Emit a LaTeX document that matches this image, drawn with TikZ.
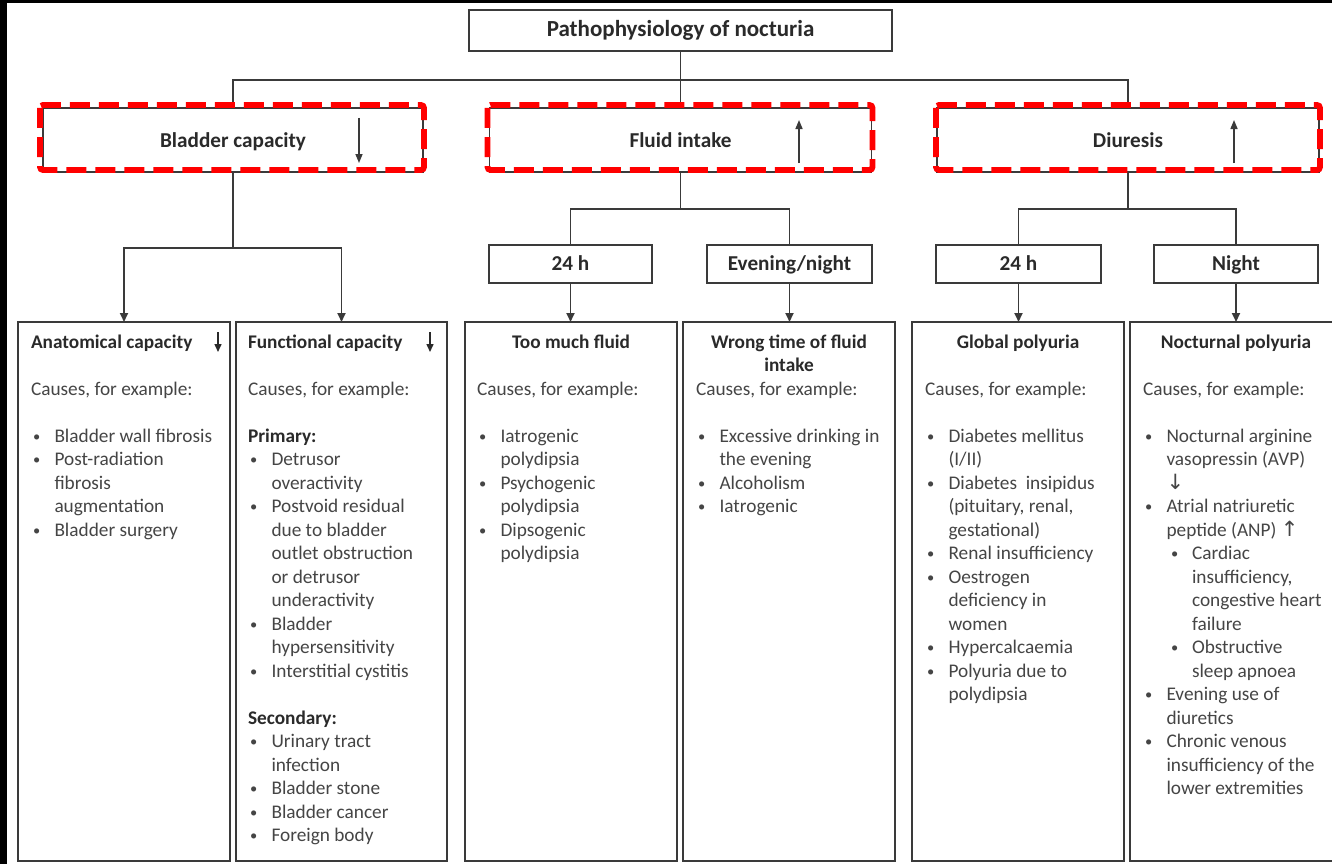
\documentclass[tikz,border=0pt]{standalone}
\usepackage{graphicx}
\usepackage{fontspec}
\setmainfont{Carlito}
\newfontfamily\arwfont{DejaVu Sans}
\usetikzlibrary{arrows.meta,calc}
\definecolor{linec}{HTML}{3A3A3A}
\definecolor{bodyc}{HTML}{454545}
\definecolor{headc}{HTML}{2A2A2A}
\definecolor{dashred}{HTML}{FF0000}
\newcommand\blankln{\par\mbox{}\par}
\newcommand\bul{\raisebox{1pt}{\scalebox{0.75}{\textbullet}}}
\newcommand\itm[1]{\par\hangindent=23.5pt\hangafter=1\makebox[23.5pt][l]{\hspace{2pt}\bul}#1\par}
\newcommand\subitm[1]{\par\hangindent=49pt\hangafter=1\makebox[49pt][l]{\hspace{28pt}\bul}#1\par}
\newcommand\hd[1]{{\color{headc}\bfseries #1}}
\newcommand\ctr[1]{\makebox[186pt][c]{\hd{#1}}\par}
\newcommand\dn{{\arwfont\fontsize{21}{23.5}\selectfont ↓}}
\newcommand\up{{\arwfont\fontsize{21}{23.5}\selectfont ↑}}
\begin{document}
\begin{tikzpicture}[x=1pt,y=-1pt,
  every node/.style={inner sep=0pt,outer sep=0pt},
  box/.style={draw=linec,line width=1.8pt,rectangle,text=headc,
    font=\fontsize{21.2}{25}\selectfont\bfseries,text height=16pt,text depth=4pt},
  txt/.style={anchor=base west,text=bodyc,font=\fontsize{19.3}{23.5}\selectfont},
  reddash/.style={draw=dashred,line width=5.8pt,dash pattern=on 20pt off 9pt,rounded corners=3pt},
  conn/.style={draw=linec,line width=1.8pt},
  arr/.style={conn,-{Triangle[length=9pt,width=8pt]}},
  thinarr/.style={draw=linec,line width=1.5pt,-{Triangle[length=9pt,width=7pt]}}
]
\useasboundingbox (0,0) rectangle (1332,864);
\fill[white] (0,0) rectangle (1332,864);
\fill[black] (0,0) rectangle (7,864);
\fill[black] (0,0) rectangle (1332,3);

% top level
\node[box,minimum width=423pt,minimum height=41pt,font=\fontsize{23}{27}\selectfont\bfseries,text height=17pt,text depth=5pt] (tt) at (680.5,30.5) {Pathophysiology of nocturia};

% red boxes
\node[box,minimum width=380pt,minimum height=64pt,text height=17pt,text depth=3pt] (bc) at (233,140) {Bladder capacity};
\node[box,minimum width=382pt,minimum height=64pt,text height=17pt,text depth=3pt] (fi) at (680.5,140) {Fluid intake};
\node[box,minimum width=382pt,minimum height=64pt,text height=17pt,text depth=3pt] (di) at (1128,140) {Diuresis};

% level 3
\node[box,minimum width=163pt,minimum height=38pt] (f24) at (570.5,264) {24 h};
\node[box,minimum width=165pt,minimum height=38pt] (fen) at (789.5,264) {Evening/night};
\node[box,minimum width=165pt,minimum height=38pt] (d24) at (1018.5,264) {24 h};
\node[box,minimum width=164pt,minimum height=38pt] (dni) at (1236,264) {Night};

% bottom boxes
\node[box,minimum width=212pt,minimum height=539pt] (an) at (124,591.5) {};
\node[box,minimum width=211pt,minimum height=539pt] (fu) at (341.5,591.5) {};
\node[box,minimum width=212pt,minimum height=539pt] (tm) at (571,591.5) {};
\node[box,minimum width=212pt,minimum height=539pt] (wt) at (789,591.5) {};
\node[box,minimum width=212pt,minimum height=539pt] (gp) at (1018,591.5) {};
\node[box,minimum width=212pt,minimum height=539pt] (np) at (1236,591.5) {};

% connectors
\coordinate (j0) at (680.5,80);
\draw[conn] (tt.south) -- (j0);
\draw[conn] (bc.north) |- (j0) -| (di.north);
\draw[conn] (j0) -- (fi.north);

\coordinate (jb) at (233,248);
\draw[conn] (bc.south) -- (jb);
\draw[arr] (jb) -| (an.north);
\draw[arr] (jb) -| (fu.north);

\coordinate (jf) at (680.5,209);
\draw[conn] (fi.south) -- (jf);
\draw[conn] (jf) -| (f24.north);
\draw[conn] (jf) -| (fen.north);
\draw[arr] (f24.south) -- (f24.south |- tm.north);
\draw[arr] (fen.south) -- (fen.south |- wt.north);

\coordinate (jd) at (1128,209);
\draw[conn] (di.south) -- (jd);
\draw[conn] (jd) -| (d24.north);
\draw[conn] (jd) -| (dni.north);
\draw[arr] (d24.south) -- (d24.south |- gp.north);
\draw[arr] (dni.south) -- (dni.south |- np.north);

% arrows in red boxes
\draw[thinarr] ($(bc.north)+(126,10)$) -- ($(bc.north)+(126,55)$);
\draw[thinarr] ($(fi.north)+(118.5,55)$) -- ($(fi.north)+(118.5,12)$);
\draw[thinarr] ($(di.north)+(106,55)$) -- ($(di.north)+(106,12)$);

% header arrows in bottom boxes
\draw[draw=headc,line width=1.5pt,-{Triangle[length=8pt,width=7pt]}] ($(an.north east)+(-12,10)$) -- ($(an.north east)+(-12,30)$);
\draw[draw=headc,line width=1.5pt,-{Triangle[length=8pt,width=7pt]}] ($(fu.north east)+(-17,10)$) -- ($(fu.north east)+(-17,30)$);

% red dashed outlines
\draw[reddash] ($(bc.north west)+(-3,-3)$) rectangle ($(bc.south east)+(1,-2)$);
\draw[reddash] ($(fi.north west)+(-2,-3)$) rectangle ($(fi.south east)+(1,-2)$);
\draw[reddash] ($(di.north west)+(-1,-3)$) rectangle ($(di.south east)+(1,-2)$);

% texts
\node[txt] (ant) at (31,348) {\begin{minipage}[t]{230pt}\raggedright
\leavevmode\hd{Anatomical capacity}\blankln
Causes, for example:\blankln
\itm{Bladder wall fibrosis}
\itm{Post-radiation\newline fibrosis\newline augmentation}
\itm{Bladder surgery}
\end{minipage}};

\node[txt] (fut) at (248,348) {\begin{minipage}[t]{230pt}\raggedright
\leavevmode\hd{Functional capacity}\blankln
Causes, for example:\blankln
\hd{Primary:}\par
\itm{Detrusor\newline overactivity}
\itm{Postvoid residual\newline due to bladder\newline outlet obstruction\newline or detrusor\newline underactivity}
\itm{Bladder\newline hypersensitivity}
\itm{Interstitial cystitis}
\mbox{}\par
\hd{Secondary:}\par
\itm{Urinary tract\newline infection}
\itm{Bladder stone}
\itm{Bladder cancer}
\itm{Foreign body}
\end{minipage}};

\node[txt] (tmt) at (477,348) {\begin{minipage}[t]{230pt}\raggedright
\makebox[188pt][c]{\hd{Too much fluid}}\blankln
Causes, for example:\blankln
\itm{Iatrogenic\newline polydipsia}
\itm{Psychogenic\newline polydipsia}
\itm{Dipsogenic\newline polydipsia}
\end{minipage}};

\node[txt] (wtt) at (696,348) {\begin{minipage}[t]{230pt}\raggedright
\ctr{Wrong time of fluid}
\ctr{intake}
Causes, for example:\blankln
\itm{Excessive drinking in\newline the evening}
\itm{Alcoholism}
\itm{Iatrogenic}
\end{minipage}};

\node[txt] (gpt) at (925,348) {\begin{minipage}[t]{230pt}\raggedright
\ctr{Global polyuria}
\mbox{}\par
Causes, for example:\blankln
\itm{Diabetes mellitus\newline (I/II)}
\itm{Diabetes\ \ insipidus\newline (pituitary, renal,\newline gestational)}
\itm{Renal insufficiency}
\itm{Oestrogen\newline deficiency in\newline women}
\itm{Hypercalcaemia}
\itm{Polyuria due to\newline polydipsia}
\end{minipage}};

\node[txt] (npt) at (1143,348) {\begin{minipage}[t]{230pt}\raggedright
\ctr{Nocturnal polyuria}
\mbox{}\par
Causes, for example:\blankln
\itm{Nocturnal arginine\newline vasopressin (AVP)\newline \dn}
\itm{Atrial natriuretic\newline peptide (ANP) \up}
\subitm{Cardiac\newline insufficiency,\newline congestive heart\newline failure}
\subitm{Obstructive\newline sleep apnoea}
\itm{Evening use of\newline diuretics}
\itm{Chronic venous\newline insufficiency of the\newline lower extremities}
\end{minipage}};
\end{tikzpicture}
\end{document}
